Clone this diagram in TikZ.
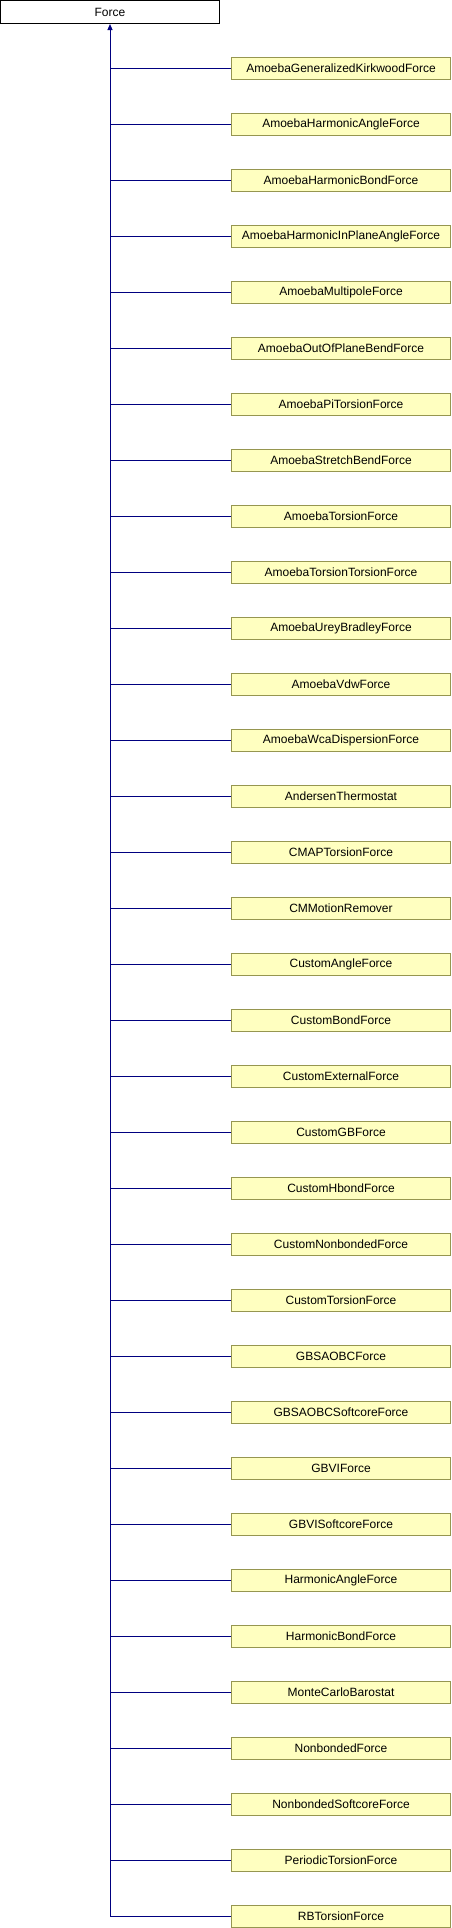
\documentclass[tikz,border=0pt]{standalone}
\usepackage{fontspec}
\setmainfont{Liberation Sans}
\usetikzlibrary{arrows.meta}
\definecolor{boxfill}{RGB}{255,255,192}
\definecolor{boxline}{RGB}{150,150,80}
\definecolor{linkblue}{RGB}{0,0,128}
\tikzset{
  base/.style={draw=black, fill=white, line width=1bp, minimum width=219bp, minimum height=23bp, inner sep=0pt, font=\fontsize{12bp}{14bp}\selectfont},
  child/.style={draw=boxline, fill=boxfill, line width=1bp, minimum width=219bp, minimum height=22bp, inner sep=0pt, font=\fontsize{12bp}{14bp}\selectfont},
  link/.style={draw=linkblue, line width=1bp},
}
\begin{document}
\begin{tikzpicture}[x=1bp,y=-1bp]
\useasboundingbox (0,0) rectangle (452,1928);
\node[base] (force) at (110,12) {Force};
\foreach \nm [count=\i] in {AmoebaGeneralizedKirkwoodForce,AmoebaHarmonicAngleForce,AmoebaHarmonicBondForce,AmoebaHarmonicInPlaneAngleForce,AmoebaMultipoleForce,AmoebaOutOfPlaneBendForce,AmoebaPiTorsionForce,AmoebaStretchBendForce,AmoebaTorsionForce,AmoebaTorsionTorsionForce,AmoebaUreyBradleyForce,AmoebaVdwForce,AmoebaWcaDispersionForce,AndersenThermostat,CMAPTorsionForce,CMMotionRemover,CustomAngleForce,CustomBondForce,CustomExternalForce,CustomGBForce,CustomHbondForce,CustomNonbondedForce,CustomTorsionForce,GBSAOBCForce,GBSAOBCSoftcoreForce,GBVIForce,GBVISoftcoreForce,HarmonicAngleForce,HarmonicBondForce,MonteCarloBarostat,NonbondedForce,NonbondedSoftcoreForce,PeriodicTorsionForce,RBTorsionForce}{
  \node[child] (c\i) at (341,{12+56*\i}) {\nm};
  \coordinate (j\i) at (110,{12+56*\i});
  \draw[link] (j\i) -- (c\i.west);
}
\draw[link,-{Triangle[length=6bp,width=5bp]}] (j34) -- (force.south);
\end{tikzpicture}
\end{document}
